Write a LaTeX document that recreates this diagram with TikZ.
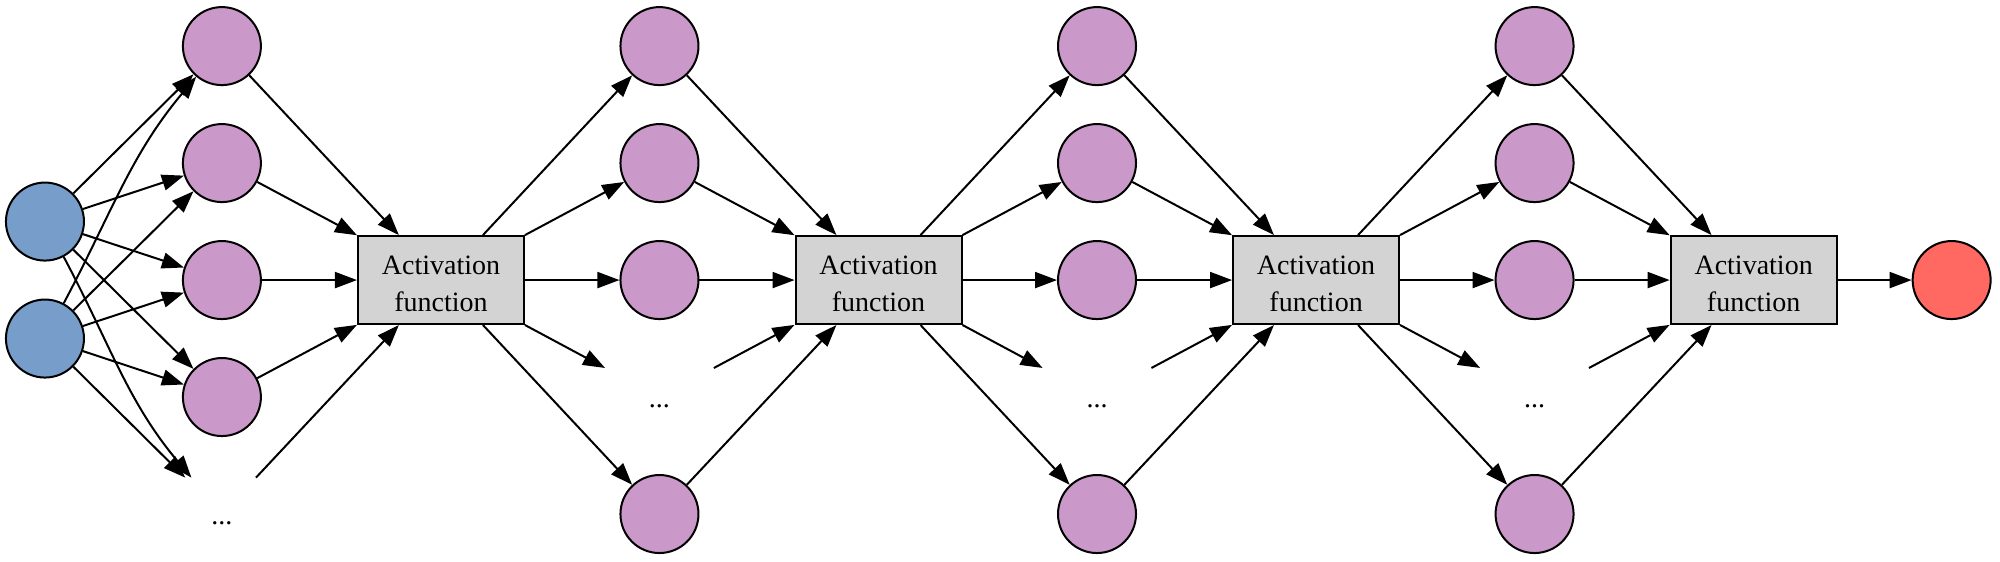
\documentclass[tikz,border=0pt]{standalone}
\usepackage{fontspec}
\setmainfont{Liberation Serif}
\usetikzlibrary{positioning, arrows.meta}
\definecolor{InputBlue}{RGB}{119, 158, 203}
\definecolor{HiddenViolet}{RGB}{203, 153, 201}
\definecolor{OutputRed}{RGB}{255, 105, 97}
\definecolor{BoxGray}{RGB}{211, 211, 211}
\newcommand{\vizfont}{\fontsize{14pt}{18.5pt}\selectfont}

\begin{document}
\begin{tikzpicture}[
    neuron/.style={circle, draw, line width=1pt, minimum size=1.371cm, inner sep=0pt},
    actbox/.style={rectangle, draw, line width=1pt, fill=BoxGray, minimum width=2.917cm,
      minimum height=1.546cm, inner sep=0pt, align=center, font=\vizfont},
    gap/.style={rectangle, minimum width=1.898cm, minimum height=1.265cm, inner sep=0pt,
      text height=12.7pt, text depth=2pt, font=\vizfont},
    link/.style={-{Triangle[length=11pt, width=8pt]}, line width=1pt},
  ]
    \useasboundingbox (0,0) rectangle (35.15,9.86);

    % Inputs
    \node[neuron, fill=InputBlue] (in1) at (0.79,5.966) {};
    \node[neuron, fill=InputBlue] (in2) at (0.79,3.910) {};

    % Hidden layers, each followed by its activation
    \foreach \k/\x/\yc/\yd in {1/3.90/2.882/0.826, 2/11.59/0.826/2.882,
                               3/19.28/0.826/2.882, 4/26.97/0.826/2.882} {
      \node[neuron, fill=HiddenViolet] (h\k1) at (\x,9.050) {};
      \node[neuron, fill=HiddenViolet] (h\k2) at (\x,6.994) {};
      \node[neuron, fill=HiddenViolet] (h\k3) at (\x,4.938) {};
      \node[neuron, fill=HiddenViolet] (h\k4) at (\x,\yc) {};
      \node[gap] (h\k x) at (\x,\yd) {...};
      \node[actbox] (act\k) at ([xshift=3.85cm]h\k3) {\rule{0pt}{12.7pt}Activation\\function};
      \foreach \n in {1,2,3,4,x}
        \draw[link] (h\k\n) -- (act\k);
    }

    % Activation to next layer
    \foreach \k [count=\j from 2] in {1,2,3}
      \foreach \n in {1,2,3,4,x}
        \draw[link] (act\k) -- (h\j\n);

    % Input connections
    \draw[link] (in1) -- (h11);
    \foreach \n in {2,3,4} {
      \draw[link] (in1) -- (h1\n);
      \draw[link] (in2) -- (h1\n);
    }
    \draw[link] (in2) -- (h1x);
    \draw[link] (in1) to[out=-62, in=130] (h1x);
    \draw[link] (in2) to[out=62, in=230] (h11);

    % Output
    \node[neuron, fill=OutputRed] (out) at (34.30,4.938) {};
    \draw[link] (act4) -- (out);
\end{tikzpicture}
\end{document}
